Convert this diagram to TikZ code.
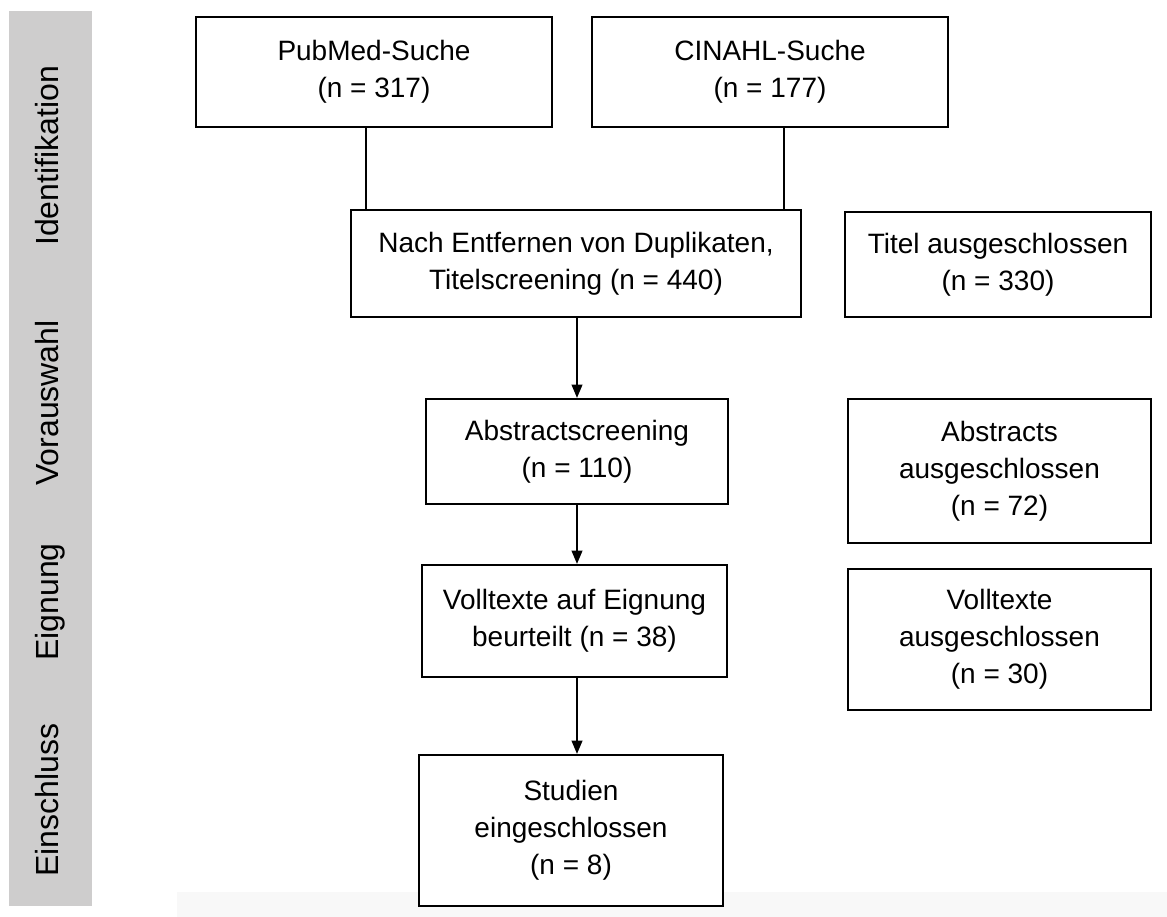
\documentclass[tikz,border=0pt]{standalone}
\usepackage{fontspec}
\setmainfont{Liberation Sans}
\usetikzlibrary{arrows.meta}
\definecolor{bargray}{RGB}{206,205,205}
\definecolor{bandgray}{RGB}{248,248,248}
\begin{document}
\begin{tikzpicture}[x=0.75pt,y=-0.75pt,
  box/.style={draw, line width=1.6pt, fill=white, inner sep=0pt, align=center, font=\fontsize{21}{27.75}\selectfont},
  lbl/.style={rotate=90, anchor=base, font=\fontsize{24}{28}\selectfont},
  arr/.style={line width=1.5pt, -{Triangle[length=10pt,width=8pt]}},
  con/.style={line width=1.5pt}]
\useasboundingbox (0,0) rectangle (1167,917);
\fill[bandgray] (177,892) rectangle (1167,917);
\fill[bargray] (9,11) rectangle (92,906);
\node[lbl] (l1) at (58,156) {Identifikation};
\node[lbl] (l2) at (58,403) {Vorauswahl};
\node[lbl] (l3) at (58,602) {Eignung};
\node[lbl] (l4) at (58,800) {Einschluss};

\node[box, minimum width=267pt, minimum height=82.5pt] (pub) at (374,72) {PubMed-Suche\\(n = 317)};
\node[box, minimum width=267pt, minimum height=82.5pt] (cin) at (770,72) {CINAHL-Suche\\(n = 177)};
\node[box, minimum width=337.5pt, minimum height=80.25pt] (nach) at (576,263.5) {Nach Entfernen von Duplikaten,\\Titelscreening (n = 440)};
\node[box, minimum width=229.5pt, minimum height=78.75pt] (tit) at (998,264.5) {Titel ausgeschlossen\\(n = 330)};
\node[box, minimum width=226.5pt, minimum height=78.75pt] (abs) at (577,451.5) {Abstractscreening\\(n = 110)};
\node[box, minimum width=227.25pt, minimum height=108pt] (absx) at (999.5,471) {Abstracts\\ausgeschlossen\\(n = 72)};
\node[box, minimum width=228.75pt, minimum height=84pt] (voll) at (574.5,621) {Volltexte auf Eignung\\beurteilt (n = 38)};
\node[box, minimum width=227.25pt, minimum height=105.75pt] (vollx) at (999.5,639.5) {Volltexte\\ausgeschlossen\\(n = 30)};
\node[box, minimum width=228pt, minimum height=113.25pt] (stud) at (571,830.5) {Studien\\eingeschlossen\\(n = 8)};

\coordinate (pl) at ([xshift=-6pt]pub.south);
\coordinate (cl) at ([xshift=10.5pt]cin.south);
\draw[con] (pl) -- (pl |- nach.north);
\draw[con] (cl) -- (cl |- nach.north);

\draw[arr] (abs.north |- nach.south) -- (abs.north);
\draw[arr] (abs.south) -- (abs.south |- voll.north);
\draw[arr] (abs.south |- voll.south) -- (abs.south |- stud.north);
\end{tikzpicture}
\end{document}
